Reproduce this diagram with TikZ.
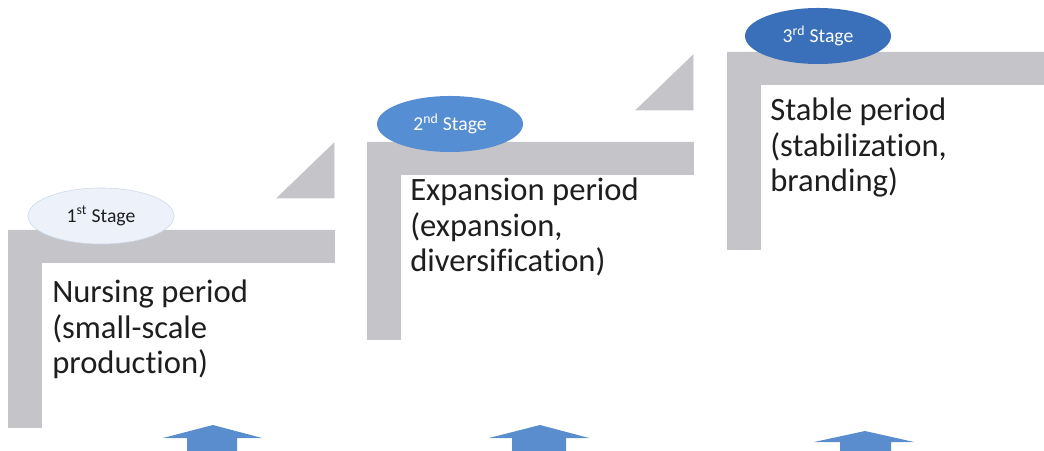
\documentclass[tikz,border=0pt]{standalone}
\usepackage{amsmath, amsfonts, amssymb}
\usepackage{xcolor}
\usepackage{fontspec}
\setmainfont[Ligatures=NoCommon]{Carlito}
\usepackage{tikz}
\usetikzlibrary{shapes.geometric}

\definecolor{bargray}{RGB}{197,197,201}
\definecolor{stageone}{RGB}{237,242,250}
\definecolor{stageoneline}{RGB}{205,215,232}
\definecolor{stagetwo}{RGB}{86,142,212}
\definecolor{stagethree}{RGB}{58,111,185}
\definecolor{arrowblue}{RGB}{90,141,206}
\definecolor{textdark}{RGB}{30,30,30}

\tikzset{
  stage/.style={ellipse, minimum width=3.65cm, minimum height=1.4cm, inner sep=0pt,
    font=\fontsize{14}{16}\selectfont},
  period/.style={anchor=north west, inner sep=0pt, align=left, text=textdark,
    font=\fontsize{23.2}{25.2}\selectfont}
}

\begin{document}
\begin{tikzpicture}[x=0.025cm, y=-0.025cm]
\useasboundingbox (0,0) rectangle (1044,451);
\clip (0,0) rectangle (1044,451);

% first step
\draw[bargray, fill=bargray](8,230)--(334,230)--(334,262)--(41,262)--(41,427)--(8,427)--cycle;
\draw[bargray, fill=bargray](277,198)--(334,198)--(334,143)--cycle;

\begin{scope}[shift={(359,-88)}]
\draw[bargray, fill=bargray](8,230)--(334,230)--(334,262)--(41,262)--(41,427)--(8,427)--cycle;
\draw[bargray, fill=bargray](277,198)--(334,198)--(334,143)--cycle;
\end{scope}

\begin{scope}[shift={(719,-178)}]
\draw[bargray, fill=bargray](8,230)--(334,230)--(334,262)--(41,262)--(41,427)--(8,427)--cycle;
\end{scope}

\node[stage, fill=stageone, draw=stageoneline, text=textdark] (stage1) at (101,216) {1\textsuperscript{st} Stage};
\node[stage, fill=stagetwo, text=white] (stage2) at (450,124) {2\textsuperscript{nd} Stage};
\node[stage, fill=stagethree, text=white] (stage3) at (818,36) {3\textsuperscript{rd} Stage};

\node[period] (nursing) at (52,280) {Nursing period\\(small-scale\\production)};
\node[period] (expansion) at (410,178) {Expansion period\\(expansion,\\diversification)};
\node[period] (stable) at (770,98) {Stable period\\(stabilization,\\branding)};

% arrows
\fill[arrowblue](213,425)--(262,438)--(237,438)--(237,451)--(187,451)--(187,438)--(163,438)--cycle;
\fill[arrowblue](540,425)--(589,438)--(566,438)--(566,451)--(512,451)--(512,438)--(489,438)--cycle;
\fill[arrowblue](865,431)--(914,442)--(891,442)--(891,451)--(840,451)--(840,442)--(814,442)--cycle;
\end{tikzpicture}
\end{document}
